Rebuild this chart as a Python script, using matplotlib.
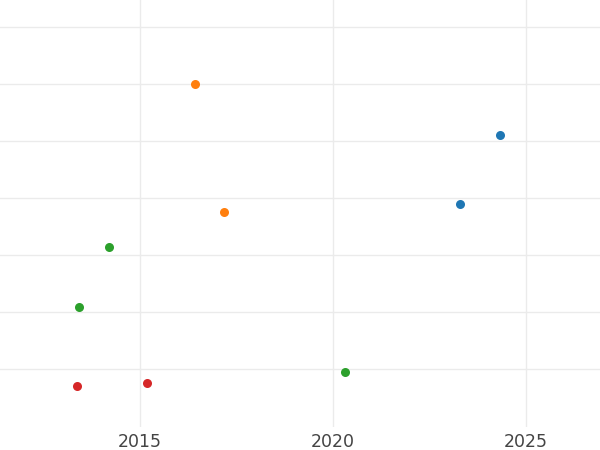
import matplotlib
matplotlib.use("Agg")
import matplotlib.pyplot as plt

# series (x = year, y = unlabelled value)
blue_x = [2024.33, 2023.29]
blue_y = [4.11, 2.89]
orange_x = [2016.42, 2017.18]
orange_y = [4.99, 2.76]
green_x = [2014.20, 2013.42, 2020.31]
green_y = [2.13, 1.08, -0.05]
red_x = [2013.37, 2015.18]
red_y = [-0.30, -0.24]

xticks = [2015, 2020, 2025]
yticks = [0, 1, 2, 3, 4, 5, 6]

fig = plt.figure(figsize=(6, 4.5), dpi=100)
ax = fig.add_axes([0, 0.051, 1, 0.949])

for xs, ys, c in [(blue_x, blue_y, "#1f77b4"), (orange_x, orange_y, "#ff7f0e"),
                  (green_x, green_y, "#2ca02c"), (red_x, red_y, "#d62728")]:
    ax.plot(xs, ys, "o", color=c, markersize=6.5, markeredgewidth=0, zorder=3)

ax.set_xlim(2011.37, 2026.92)
ax.set_ylim(-1.02, 6.47)
ax.set_xticks(xticks)
ax.set_xticklabels([str(t) for t in xticks])
ax.set_yticks(yticks)
ax.set_yticklabels([])
ax.grid(True, color="#ebebeb", linewidth=1)
ax.set_axisbelow(True)
ax.tick_params(length=0, labelsize=12.5, labelcolor="#444444", pad=4)
for s in ax.spines.values():
    s.set_visible(False)

fig.savefig("out.png", dpi=100)
